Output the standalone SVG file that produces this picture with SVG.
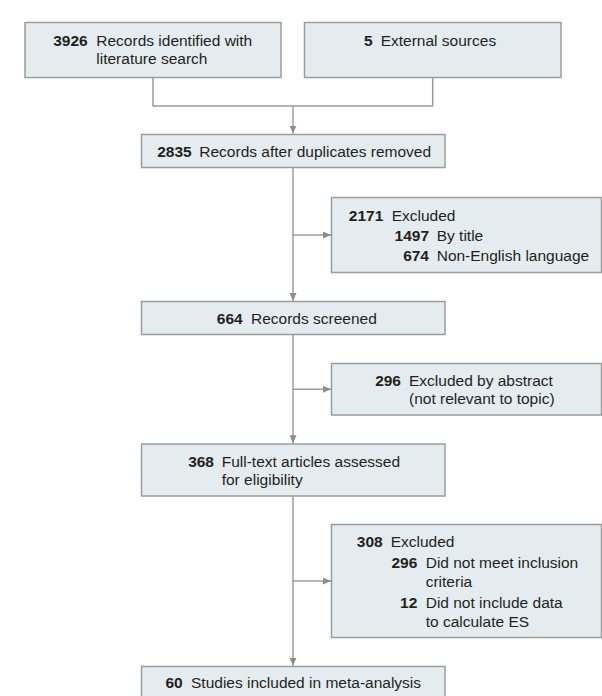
<svg xmlns="http://www.w3.org/2000/svg" width="602" height="696" viewBox="0 0 602 696">
<style>
.box{fill:#e5ecf0;stroke:#9c9c9c;stroke-width:1.5}
.conn{fill:none;stroke:#9c9c9c;stroke-width:1.5}
text{font-family:"Liberation Sans",Arial,sans-serif;font-size:15.5px;fill:#231f20}
.n{font-weight:bold;text-anchor:end}
</style>
<defs>
<marker id="ah" markerUnits="userSpaceOnUse" markerWidth="9" markerHeight="8" refX="8" refY="3.5" orient="auto">
<path d="M0,0 L8,3.5 L0,7 z" fill="#8c8c8c"/>
</marker>
</defs>
<g id="connectors">
<path class="conn" d="M153,77.5 V106 H432.7 V77.5"/>
<path class="conn" d="M293,106 V133.5" marker-end="url(#ah)"/>
<path class="conn" d="M293,167.5 V301" marker-end="url(#ah)"/>
<path class="conn" d="M293,235 H331" marker-end="url(#ah)"/>
<path class="conn" d="M293,334.5 V443.2" marker-end="url(#ah)"/>
<path class="conn" d="M293,389.3 H331" marker-end="url(#ah)"/>
<path class="conn" d="M293,496 V665.8" marker-end="url(#ah)"/>
<path class="conn" d="M293,581 H331" marker-end="url(#ah)"/>
</g>
<g id="n3926">
<rect class="box" x="25" y="22.5" width="256" height="55"/>
<text class="n" x="87.7" y="45.5">3926</text>
<text x="96.3" y="45.5">Records identified with</text>
<text x="96.3" y="63.5">literature search</text>
</g>
<g id="n5">
<rect class="box" x="304.5" y="22.5" width="256.5" height="55"/>
<text class="n" x="372.7" y="45.5">5</text>
<text x="380.7" y="45.5">External sources</text>
</g>
<g id="n2835">
<rect class="box" x="141.5" y="134.5" width="303.5" height="33"/>
<text class="n" x="191.7" y="156.7">2835</text>
<text x="199.3" y="156.7">Records after duplicates removed</text>
</g>
<g id="n2171">
<rect class="box" x="331.5" y="197.5" width="270" height="75"/>
<text class="n" x="383.3" y="220.7">2171</text>
<text x="391.7" y="220.7">Excluded</text>
<text class="n" x="429" y="240.7">1497</text>
<text x="436.7" y="240.7">By title</text>
<text class="n" x="429" y="260.7">674</text>
<text x="436.7" y="260.7">Non-English language</text>
</g>
<g id="n664">
<rect class="box" x="141.5" y="301.5" width="303.5" height="33"/>
<text class="n" x="242.7" y="324">664</text>
<text x="251" y="324">Records screened</text>
</g>
<g id="n296">
<rect class="box" x="331.5" y="363.5" width="270" height="51.5"/>
<text class="n" x="401" y="386">296</text>
<text x="409" y="386">Excluded by abstract</text>
<text x="409" y="404">(not relevant to topic)</text>
</g>
<g id="n368">
<rect class="box" x="141.5" y="444" width="303.5" height="52"/>
<text class="n" x="214" y="466.7">368</text>
<text x="221.7" y="466.7">Full-text articles assessed</text>
<text x="221.7" y="485">for eligibility</text>
</g>
<g id="n308">
<rect class="box" x="331.5" y="524.5" width="270" height="113"/>
<text class="n" x="382.7" y="547.3">308</text>
<text x="390.7" y="547.3">Excluded</text>
<text class="n" x="417.3" y="568">296</text>
<text x="425.7" y="568">Did not meet inclusion</text>
<text x="425.7" y="587">criteria</text>
<text class="n" x="417.3" y="608">12</text>
<text x="425.7" y="608">Did not include data</text>
<text x="425.7" y="626.5">to calculate ES</text>
</g>
<g id="n60">
<rect class="box" x="141.5" y="666.5" width="303.5" height="40"/>
<text class="n" x="182.7" y="688.3">60</text>
<text x="191" y="688.3">Studies included in meta-analysis</text>
</g>
</svg>
